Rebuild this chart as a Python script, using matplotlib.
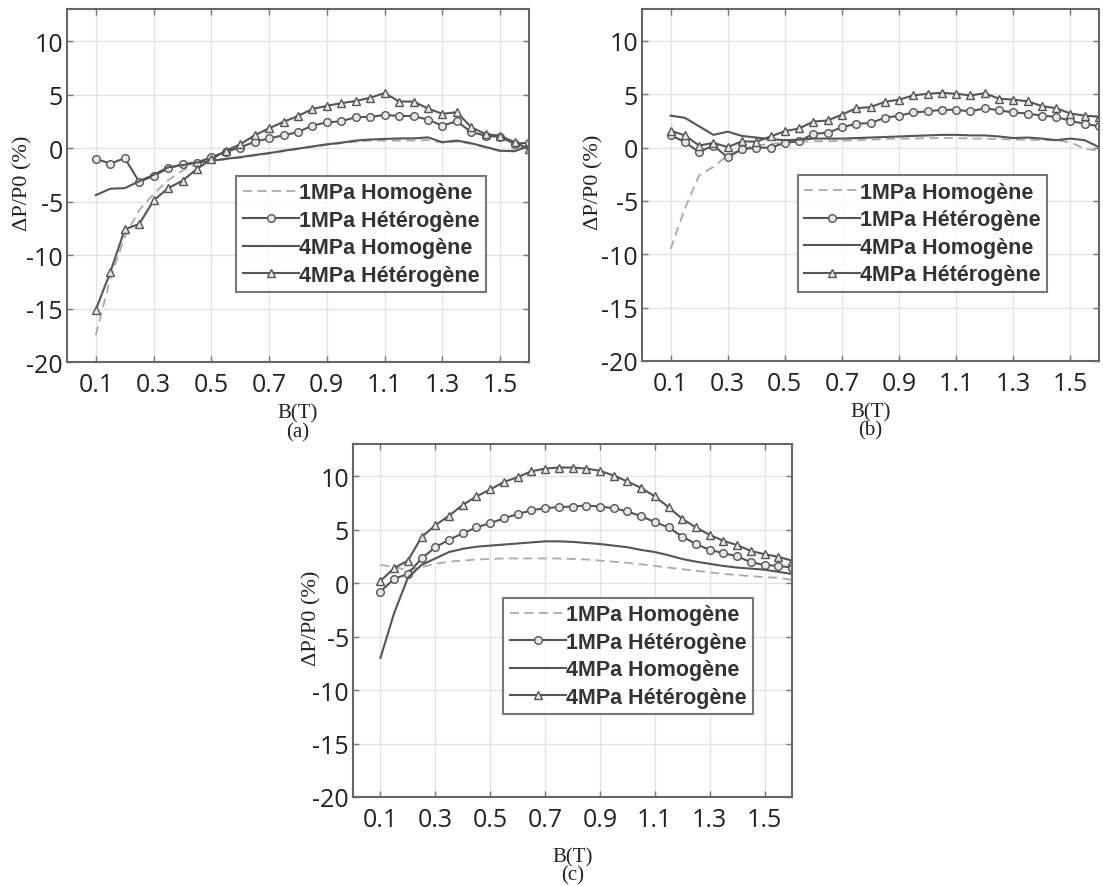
import numpy as np
import matplotlib
matplotlib.use('Agg')
import matplotlib.pyplot as plt

plt.rcParams['axes.unicode_minus'] = False

# Field values B(T)
b_field = [0.1, 0.15, 0.2, 0.25, 0.3, 0.35, 0.4, 0.45, 0.5, 0.55, 0.6, 0.65, 0.7, 0.75, 0.8, 0.85,
           0.9, 0.95, 1.0, 1.05, 1.1, 1.15, 1.2, 1.25, 1.3, 1.35, 1.4, 1.45, 1.5, 1.55, 1.6]

series_names = ['1MPa Homogène', '1MPa Hétérogène', '4MPa Homogène', '4MPa Hétérogène']

# (a)
a_1mpa_hom = [-17.5, -12.2, -8.3, -5.8, -4.3, -3.0, -2.1, -1.5, -1.25, -1.05, -0.9, -0.7, -0.5, -0.3, -0.1, 0.1,
              0.3, 0.45, 0.6, 0.7, 0.7, 0.7, 0.7, 0.75, 0.5, 0.6, 0.4, 0.05, -0.3, -0.2, 0.3]
a_1mpa_het = [-1.0, -1.45, -0.95, -3.15, -2.6, -1.9, -1.5, -1.35, -0.85, -0.35, 0.05, 0.6, 0.9, 1.2, 1.5, 2.1,
              2.4, 2.5, 2.9, 2.9, 3.1, 3.0, 3.0, 2.65, 2.1, 2.5, 1.5, 1.15, 1.05, 0.4, 0.5]
a_4mpa_hom = [-4.4, -3.8, -3.75, -3.1, -2.5, -1.8, -1.6, -1.35, -1.2, -1.0, -0.85, -0.65, -0.47, -0.25, -0.05, 0.15,
              0.35, 0.5, 0.7, 0.8, 0.85, 0.9, 0.9, 1.0, 0.55, 0.7, 0.45, 0.1, -0.25, -0.3, 0.2]
a_4mpa_het = [-15.1, -11.6, -7.6, -7.1, -4.9, -3.75, -3.05, -1.95, -1.05, -0.25, 0.35, 1.2, 1.85, 2.45, 3.0, 3.65,
              3.95, 4.2, 4.4, 4.7, 5.15, 4.35, 4.35, 3.7, 3.2, 3.35, 1.95, 1.3, 1.15, 0.55, -0.1]

# (b)
b_1mpa_hom = [-9.5, -5.7, -2.6, -1.8, -0.7, -0.1, 0.2, 0.35, 0.5, 0.55, 0.6, 0.6, 0.65, 0.7, 0.75, 0.8,
              0.85, 0.85, 0.9, 0.9, 0.9, 0.85, 0.85, 0.8, 0.75, 0.75, 0.7, 0.7, 0.5, -0.1, -0.3]
b_1mpa_het = [1.2, 0.5, -0.4, 0.2, -0.9, -0.15, 0.0, 0.0, 0.45, 0.6, 1.3, 1.4, 1.9, 2.25, 2.3, 2.8,
              3.0, 3.3, 3.4, 3.55, 3.55, 3.4, 3.7, 3.5, 3.3, 3.2, 3.0, 2.9, 2.5, 2.25, 2.0]
b_4mpa_hom = [3.0, 2.8, 2.0, 1.2, 1.5, 1.1, 0.95, 0.8, 0.7, 0.75, 0.85, 0.85, 0.85, 0.9, 0.95, 1.0,
              1.05, 1.1, 1.15, 1.2, 1.2, 1.15, 1.15, 1.05, 0.9, 0.95, 0.85, 0.7, 0.85, 0.7, 0.05]
b_4mpa_het = [1.6, 1.15, 0.2, 0.45, 0.05, 0.6, 0.55, 1.05, 1.55, 1.8, 2.45, 2.55, 3.1, 3.7, 3.8, 4.3,
              4.5, 4.9, 5.05, 5.15, 5.05, 4.9, 5.1, 4.6, 4.5, 4.35, 3.9, 3.7, 3.2, 3.0, 2.9]

# (c)
c_1mpa_hom = [1.7, 1.5, 1.2, 1.5, 1.8, 2.0, 2.1, 2.2, 2.25, 2.3, 2.3, 2.3, 2.3, 2.3, 2.25, 2.2,
              2.1, 2.0, 1.9, 1.75, 1.6, 1.45, 1.3, 1.15, 1.0, 0.85, 0.75, 0.65, 0.55, 0.5, 0.3]
c_1mpa_het = [-0.8, 0.4, 0.85, 2.3, 3.35, 4.05, 4.65, 5.2, 5.6, 6.05, 6.45, 6.8, 7.0, 7.1, 7.15, 7.25,
              7.15, 7.0, 6.7, 6.25, 5.7, 5.2, 4.35, 3.65, 3.1, 2.8, 2.5, 1.95, 1.7, 1.6, 1.45]
c_4mpa_hom = [-7.0, -2.8, 0.5, 1.7, 2.3, 2.9, 3.2, 3.4, 3.5, 3.6, 3.7, 3.8, 3.9, 3.9, 3.85, 3.75,
              3.65, 3.5, 3.35, 3.1, 2.9, 2.6, 2.25, 2.0, 1.8, 1.6, 1.45, 1.35, 1.25, 1.05, 0.85]
c_4mpa_het = [0.2, 1.4, 2.1, 4.3, 5.4, 6.3, 7.3, 8.1, 8.75, 9.45, 9.9, 10.45, 10.7, 10.8, 10.8, 10.7,
              10.5, 10.05, 9.5, 8.9, 8.1, 7.1, 6.0, 5.2, 4.5, 3.95, 3.55, 3.0, 2.7, 2.45, 2.1]

x_ticks = [0.1, 0.3, 0.5, 0.7, 0.9, 1.1, 1.3, 1.5]
y_ticks = [-20, -15, -10, -5, 0, 5, 10]

W, H = 1103, 887
fig = plt.figure(figsize=(W / 100, H / 100), dpi=100)


def px_axes(left, top, right, bottom):
    return fig.add_axes([left / W, 1 - bottom / H, (right - left) / W, (bottom - top) / H])


def panel(ax, data, tag, leg_anchor, ylab_x, xlab_y):
    hom1, het1, hom4, het4 = data
    ax.plot(b_field, hom1, '--', color='#aaaaaa', lw=1.3, dashes=(5, 3), label=series_names[0])
    ax.plot(b_field, het1, '-', color='#555555', lw=1.5, marker='o', ms=5.5,
            mfc='#e6e6e6', mec='#555555', mew=1.0, label=series_names[1])
    ax.plot(b_field, hom4, '-', color='#555555', lw=1.5, label=series_names[2])
    ax.plot(b_field, het4, '-', color='#555555', lw=1.5, marker='^', ms=6,
            mfc='#e6e6e6', mec='#555555', mew=1.0, label=series_names[3])
    ax.set_xlim(0, 1.6)
    ax.set_ylim(-20, 13)
    ax.set_xticks(x_ticks)
    ax.set_yticks(y_ticks)
    ax.set_xticklabels(['%.1f' % v for v in x_ticks])
    ax.grid(True, color='#e3e3e3', lw=1.0)
    ax.set_axisbelow(True)
    ax.tick_params(direction='in', top=True, right=True, length=4, width=1,
                   color='#777777', labelsize=18, labelcolor='#222222')
    ax.tick_params(axis='x', pad=7)
    ax.tick_params(axis='y', pad=3)
    for lab in ax.get_xticklabels() + ax.get_yticklabels():
        lab.set_fontfamily('Open Sans')
    for s in ax.spines.values():
        s.set_color('#666666')
        s.set_linewidth(1.5)
    ax.set_ylabel('ΔP/P0 (%)', family='Liberation Serif', fontsize=16, color='#222222')
    ax.yaxis.set_label_coords(ylab_x, 0.51)
    ax.set_xlabel('B(T)\n' + tag, family='Liberation Serif', fontsize=15, color='#222222',
                  linespacing=0.95)
    ax.xaxis.set_label_coords(0.5, xlab_y)
    leg = ax.legend(loc='upper left', bbox_to_anchor=leg_anchor, frameon=True, fancybox=False,
                    edgecolor='#555555', handlelength=2.6, handletextpad=0.0, labelspacing=0.3,
                    borderpad=0.3, borderaxespad=0,
                    prop={'family': 'Liberation Sans', 'weight': 'bold', 'size': 15.5})
    leg.get_frame().set_linewidth(1.5)
    for t in leg.get_texts():
        t.set_color('#333333')


ax_a = px_axes(67, 10, 529, 363)
panel(ax_a, (a_1mpa_hom, a_1mpa_het, a_4mpa_hom, a_4mpa_het), '(a)', (0.366, 0.527), -0.074, -0.117)

ax_b = px_axes(642, 10, 1099, 362)
panel(ax_b, (b_1mpa_hom, b_1mpa_het, b_4mpa_hom, b_4mpa_het), '(b)', (0.341, 0.527), -0.085, -0.117)

ax_c = px_axes(353, 445, 792, 798)
panel(ax_c, (c_1mpa_hom, c_1mpa_het, c_4mpa_hom, c_4mpa_het), '(c)', (0.342, 0.564), -0.071, -0.142)

fig.savefig('out.png', dpi=100)
